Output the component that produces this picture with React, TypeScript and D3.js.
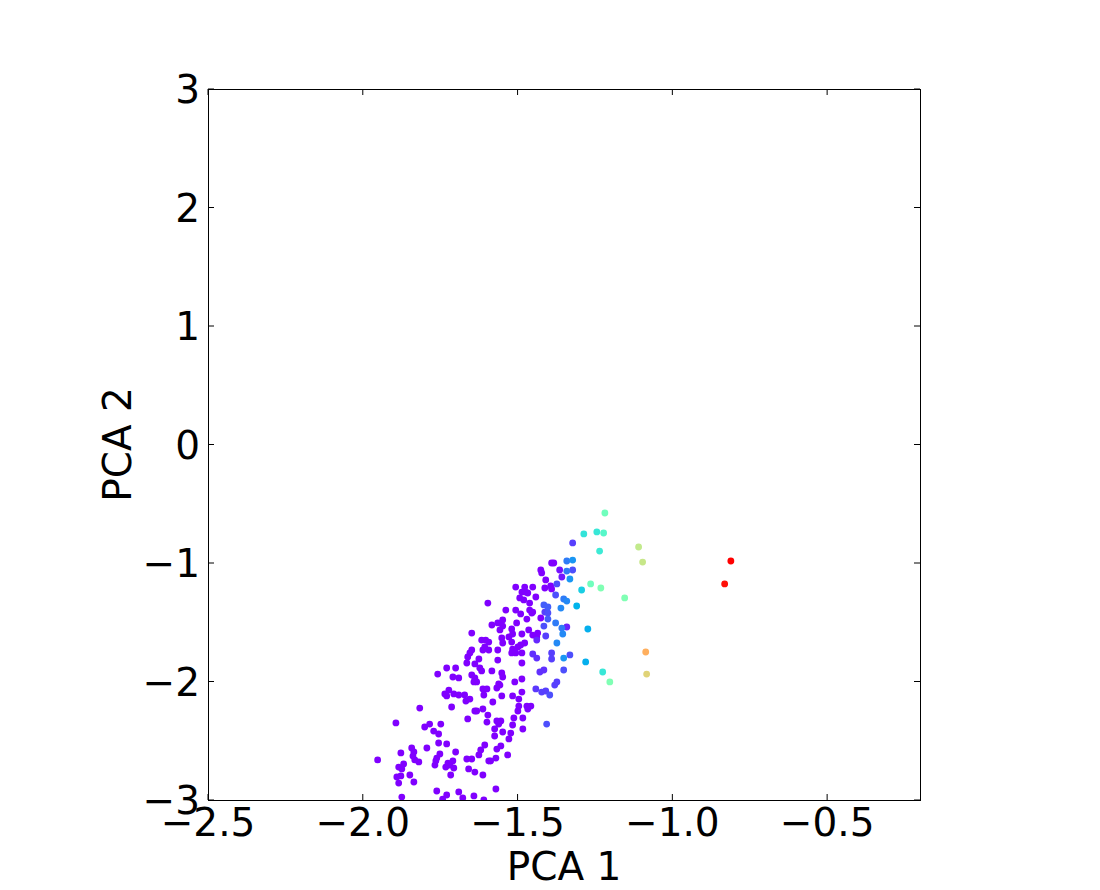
import React from "react";
import * as d3 from "d3";

// [PCA 1, PCA 2, colour value (0..1, rainbow colormap)]
const samples: [number, number, number][] = [
  // lower-left cloud
  [-1.735, -2.105, 0], [-1.729, -2.122, 0], [-1.722, -2.072, 0], [-1.706, -2.105, 0],
  [-1.69, -2.114, 0], [-1.671, -2.114, 0], [-1.654, -2.148, 0], [-1.667, -2.165, 0],
  [-1.612, -2.063, 0], [-1.599, -2.063, 0], [-1.609, -2.114, 0], [-1.816, -2.224, 0],
  [-1.713, -2.215, 0], [-1.638, -2.249, 0], [-1.632, -2.249, 0], [-1.612, -2.232, 0],
  [-1.596, -2.283, 0], [-1.661, -2.316, 0], [-1.599, -2.342, 0], [-1.893, -2.35, 0],
  [-1.8, -2.384, 0], [-1.784, -2.359, 0], [-1.748, -2.359, 0], [-1.771, -2.418, 0],
  [-1.755, -2.443, 0], [-1.755, -2.519, 0], [-1.729, -2.527, 0], [-1.793, -2.561, 0],
  [-1.842, -2.561, 0], [-1.877, -2.603, 0], [-1.835, -2.595, 0], [-1.7, -2.595, 0],
  [-1.751, -2.612, 0], [-1.761, -2.646, 0], [-1.764, -2.671, 0], [-1.838, -2.629, 0],
  [-1.832, -2.662, 0], [-1.819, -2.679, 0], [-1.606, -2.536, 0], [-1.619, -2.578, 0],
  [-1.625, -2.62, 0], [-1.593, -2.671, 0], [-1.952, -2.662, 0], [-1.868, -2.696, 0],
  [-1.884, -2.722, 0], [-1.874, -2.738, 0], [-1.767, -2.705, 0], [-1.725, -2.688, 0],
  [-1.709, -2.671, 0], [-1.732, -2.722, 0], [-1.706, -2.73, 0], [-1.719, -2.705, 0],
  [-1.664, -2.654, 0], [-1.648, -2.654, 0], [-1.658, -2.738, 0], [-1.638, -2.764, 0],
  [-1.612, -2.789, 0], [-1.89, -2.806, 0], [-1.877, -2.797, 0], [-1.848, -2.789, 0],
  [-1.884, -2.857, 0], [-1.835, -2.848, 0], [-1.716, -2.789, 0], [-1.761, -2.924, 0],
  [-1.69, -2.932, 0], [-1.729, -2.958, 0], [-1.641, -2.966, 0], [-1.874, -2.975, 0],
  [-1.742, -2.992, 0], [-1.677, -2.983, 0], [-1.609, -3.0, 0],
  // lower-middle
  [-1.551, -2.122, 0], [-1.516, -2.122, 0], [-1.496, -2.148, 0], [-1.486, -2.089, 0],
  [-1.441, -2.063, 0.07], [-1.422, -2.089, 0.08], [-1.409, -2.08, 0.08], [-1.396, -2.114, 0.1],
  [-1.567, -2.055, 0], [-1.561, -2.021, 0], [-1.58, -2.173, 0], [-1.496, -2.207, 0],
  [-1.47, -2.207, 0], [-1.457, -2.207, 0], [-1.467, -2.232, 0], [-1.499, -2.249, 0],
  [-1.567, -2.333, 0], [-1.554, -2.333, 0], [-1.561, -2.359, 0], [-1.512, -2.308, 0],
  [-1.483, -2.308, 0], [-1.406, -2.359, 0.1], [-1.516, -2.367, 0], [-1.574, -2.401, 0],
  [-1.548, -2.426, 0], [-1.522, -2.435, 0], [-1.483, -2.401, 0], [-1.574, -2.46, 0],
  [-1.528, -2.485, 0], [-1.554, -2.544, 0], [-1.567, -2.57, 0], [-1.532, -2.62, 0],
  [-1.57, -2.646, 0], [-1.587, -2.671, 0], [-1.57, -2.907, 0],
  // middle band
  [-1.648, -1.591, 0], [-1.648, -1.734, 0], [-1.654, -1.759, 0], [-1.661, -1.793, 0],
  [-1.664, -1.844, 0], [-1.638, -1.852, 0], [-1.625, -1.81, 0], [-1.622, -1.886, 0],
  [-1.758, -1.937, 0], [-1.729, -1.886, 0], [-1.7, -1.886, 0], [-1.709, -1.962, 0],
  [-1.69, -1.97, 0], [-1.648, -1.945, 0], [-1.638, -1.97, 0], [-1.641, -2.004, 0],
  [-1.632, -2.004, 0], [-1.616, -1.911, 0], [-1.557, -2.03, 0], [-1.509, -2.004, 0],
  [-1.486, -1.979, 0], [-1.38, -2.03, 0.08], [-1.373, -2.004, 0.08], [-1.548, -1.962, 0],
  // upper band
  [-1.39, -1.0, 0], [-1.383, -1.0, 0], [-1.341, -0.983, 0.16], [-1.322, -0.975, 0.2],
  [-1.425, -1.059, 0], [-1.422, -1.084, 0], [-1.364, -1.059, 0.02], [-1.341, -1.068, 0.16],
  [-1.322, -1.059, 0.1], [-1.357, -1.118, 0.03], [-1.331, -1.135, 0.2], [-1.409, -1.143, 0],
  [-1.506, -1.203, 0], [-1.477, -1.203, 0], [-1.451, -1.203, 0], [-1.412, -1.211, 0],
  [-1.393, -1.194, 0], [-1.39, -1.219, 0], [-1.373, -1.177, 0.1], [-1.486, -1.245, 0],
  [-1.474, -1.245, 0], [-1.467, -1.253, 0], [-1.441, -1.287, 0], [-1.493, -1.295, 0],
  [-1.48, -1.312, 0], [-1.461, -1.338, 0], [-1.377, -1.27, 0.1], [-1.351, -1.304, 0.16],
  [-1.341, -1.321, 0.18], [-1.415, -1.354, 0.12], [-1.402, -1.371, 0.12], [-1.309, -1.363, 0.25],
  [-1.596, -1.338, 0], [-1.538, -1.397, 0], [-1.506, -1.397, 0], [-1.49, -1.43, 0],
  [-1.461, -1.397, 0], [-1.451, -1.414, 0], [-1.454, -1.422, 0], [-1.412, -1.414, 0.08],
  [-1.402, -1.422, 0.1], [-1.36, -1.38, 0.18], [-1.425, -1.464, 0], [-1.402, -1.473, 0.12],
  [-1.47, -1.473, 0], [-1.548, -1.481, 0], [-1.564, -1.506, 0], [-1.583, -1.523, 0],
  [-1.548, -1.532, 0], [-1.503, -1.506, 0], [-1.377, -1.506, 0.16], [-1.415, -1.532, 0.1],
  [-1.341, -1.54, 0.04], [-1.357, -1.549, 0.16], [-1.354, -1.599, 0.18], [-1.273, -1.557, 0.24],
  [-1.519, -1.557, 0], [-1.464, -1.565, 0], [-1.557, -1.565, 0], [-1.435, -1.591, 0],
  [-1.438, -1.624, 0], [-1.486, -1.599, 0], [-1.451, -1.608, 0], [-1.516, -1.599, 0],
  [-1.528, -1.624, 0], [-1.616, -1.65, 0], [-1.603, -1.65, 0], [-1.593, -1.667, 0],
  [-1.551, -1.633, 0], [-1.548, -1.675, 0], [-1.519, -1.667, 0], [-1.499, -1.709, 0],
  [-1.516, -1.726, 0], [-1.49, -1.692, 0], [-1.438, -1.65, 0.05], [-1.409, -1.616, 0.08],
  [-1.373, -1.675, 0.18], [-1.606, -1.709, 0], [-1.612, -1.734, 0], [-1.593, -1.734, 0],
  [-1.564, -1.734, 0], [-1.519, -1.759, 0], [-1.506, -1.759, 0], [-1.486, -1.759, 0],
  [-1.451, -1.768, 0.06], [-1.438, -1.802, 0.06], [-1.39, -1.759, 0.08], [-1.39, -1.81, 0.08],
  [-1.351, -1.802, 0.2], [-1.331, -1.776, 0.1], [-1.28, -1.835, 0.24], [-1.225, -1.92, 0.36],
  [-1.564, -1.819, 0], [-1.486, -1.844, 0], [-1.428, -1.92, 0.06], [-1.415, -1.903, 0.06],
  [-1.351, -1.903, 0.1], [-1.583, -1.911, 0], [-1.551, -1.928, 0], [-1.477, -1.675, 0],
  // right-hand outliers
  [-1.218, -0.578, 0.47], [-1.286, -0.755, 0.35], [-1.244, -0.738, 0.36], [-1.222, -0.747, 0.42],
  [-1.322, -0.831, 0.08], [-1.235, -0.899, 0.37], [-1.109, -0.865, 0.63], [-1.096, -0.992, 0.64],
  [-1.264, -1.177, 0.47], [-1.231, -1.211, 0.5], [-1.293, -1.228, 0.3], [-1.154, -1.295, 0.5],
  [-1.202, -2.004, 0.5], [-1.086, -1.751, 0.76], [-1.083, -1.937, 0.69],
  [-0.811, -0.983, 1.0], [-0.831, -1.177, 0.98],
];

const xTicks = [-2.5, -2.0, -1.5, -1.0, -0.5];
const yTicks = [-3, -2, -1, 0, 1, 2, 3];
const xLabel = "PCA 1";
const yLabel = "PCA 2";

// matplotlib "rainbow" colormap
function rainbow(t: number): string {
  const r = Math.min(1, Math.abs(2 * t - 0.5));
  const g = Math.sin(t * Math.PI);
  const b = Math.max(0, Math.cos((t * Math.PI) / 2));
  return d3.rgb(r * 255, g * 255, b * 255).formatHex();
}

export default function App() {
  const W = 1100, H = 890;
  const left = 208, right = 920, top = 89, bottom = 800;
  const x = d3.scaleLinear().domain([-2.5, -0.2]).range([left, right]);
  const y = d3.scaleLinear().domain([-3, 3]).range([bottom, top]);
  const fx = d3.format(".1f");
  const fy = d3.format("d");
  const font = "'DejaVu Sans', sans-serif";
  const fs = 39;
  const tl = 6;
  const sorted = [...samples].sort((a, b) => a[2] - b[2]);
  return (
    <svg width={W} height={H} style={{ position: "absolute", left: 0, top: 0, background: "#fff" }}>
      <rect x={0} y={0} width={W} height={H} fill="#fff" />
      <defs>
        <clipPath id="plotclip">
          <rect x={left} y={top} width={right - left} height={bottom - top} />
        </clipPath>
      </defs>
      <g clipPath="url(#plotclip)">
        {sorted.map((d, i) => (
          <circle key={i} cx={x(d[0])} cy={y(d[1])} r={3.4} fill={rainbow(d[2])} />
        ))}
      </g>
      <rect x={left} y={top} width={right - left} height={bottom - top} fill="none" stroke="#000" strokeWidth={1} shapeRendering="crispEdges" />
      {xTicks.map((t) => (
        <g key={"x" + t}>
          <line x1={x(t)} x2={x(t)} y1={bottom} y2={bottom - tl} stroke="#000" />
          <line x1={x(t)} x2={x(t)} y1={top} y2={top + tl} stroke="#000" />
          <text x={x(t)} y={836} textAnchor="middle" fontFamily={font} fontSize={fs} fill="#000">
            {fx(t)}
          </text>
        </g>
      ))}
      {yTicks.map((t) => (
        <g key={"y" + t}>
          <line x1={left} x2={left + tl} y1={y(t)} y2={y(t)} stroke="#000" />
          <line x1={right} x2={right - tl} y1={y(t)} y2={y(t)} stroke="#000" />
          <text x={200} y={y(t) + 14} textAnchor="end" fontFamily={font} fontSize={fs} fill="#000">
            {fy(t)}
          </text>
        </g>
      ))}
      <text x={(left + right) / 2} y={880} textAnchor="middle" fontFamily={font} fontSize={fs} fill="#000">
        {xLabel}
      </text>
      <text transform={`translate(131,${(top + bottom) / 2}) rotate(-90)`} textAnchor="middle" fontFamily={font} fontSize={fs} fill="#000">
        {yLabel}
      </text>
    </svg>
  );
}
